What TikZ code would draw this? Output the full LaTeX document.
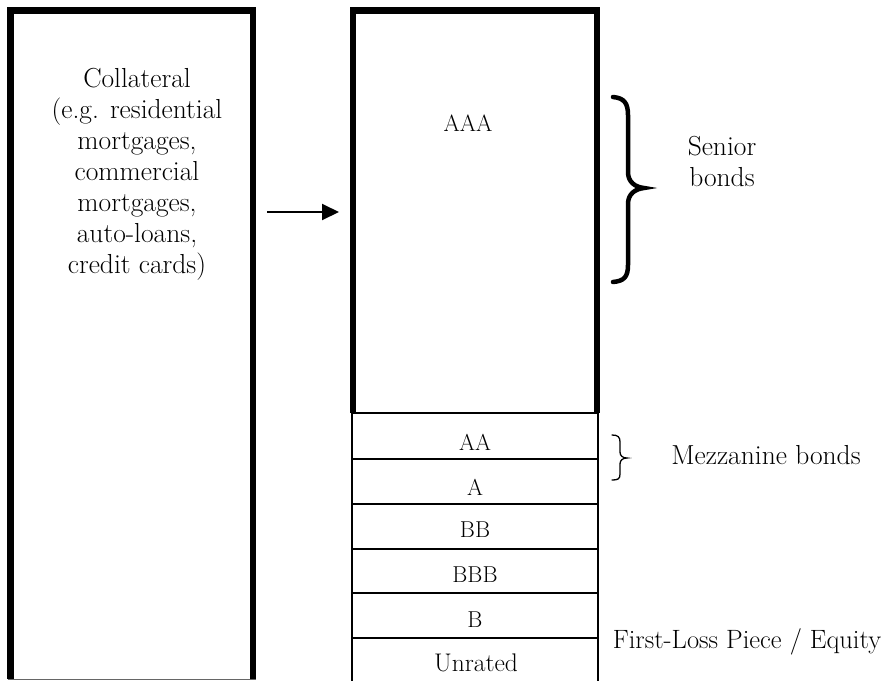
\documentclass[tikz,border=0pt]{standalone}
\usepackage{fontspec}
\usetikzlibrary{arrows.meta}
\begin{document}
\begin{tikzpicture}[x=1pt,y=-1pt,
  thickline/.style={line width=6.5pt, line join=miter},
  thinline/.style={line width=2.5pt},
  sepline/.style={line width=1.6pt},
  biglabel/.style={font=\fontsize{27.5}{31}\selectfont, align=center, inner sep=0pt},
  tlabel/.style={font=\fontsize{23}{26}\selectfont, inner sep=0pt},
  bracethick/.style={line width=4.5pt, line cap=round},
  bracethin/.style={line width=1.3pt, line cap=round},
]
\useasboundingbox[fill=white] (0,0) rectangle (886,681);

% left box
\draw[thickline] (10.5,679) -- (10.5,10.5) -- (253,10.5) -- (253,679);
\draw[line width=1.2pt, black!60] (8,679.5) -- (256,679.5);
\node[biglabel] (collat) at (137,174) {Collateral\\(e.g. residential\\mortgages,\\commercial\\mortgages,\\auto-loans,\\credit cards)};

% arrow
\coordinate (arrS) at (267,212);
\coordinate (arrE) at (339,212);
\draw[line width=2pt, -{Triangle[length=17pt,width=16pt]}] (arrS) -- (arrE);

% right box, senior part
\draw[thickline] (353,413) -- (353,10.5) -- (597,10.5) -- (597,413);
\node[tlabel, font=\fontsize{23.5}{26}\selectfont] (aaa) at (468,123) {AAA};

% tranches
\draw[thinline] (352,413) -- (352,681);
\draw[thinline] (598,413) -- (598,681);
\foreach \yy in {413,459,504,549,593,638}
  \draw[sepline] (352,\yy) -- (598,\yy);
\node[tlabel] (aa) at (475,442) {AA};
\node[tlabel] (a) at (475,487) {A};
\node[tlabel] (bb) at (475,530) {BB};
\node[tlabel] (bbb) at (475,575) {BBB};
\node[tlabel] (b) at (475,620) {B};
\node[tlabel, font=\fontsize{25.5}{28}\selectfont] (unr) at (476,663) {Unrated};

% senior brace
\draw[bracethick] (613,97) .. controls (624,98) and (628,103) .. (628,115)
  -- (628,172) .. controls (628,182) and (635,187) .. (644,188)
  .. controls (635,189) and (628,194) .. (628,204)
  -- (628,265) .. controls (628,277) and (624,281) .. (613,282);
\node[biglabel] (senior) at (722,161) {Senior\\bonds};

% mezzanine brace
\draw[bracethin] (612,435) .. controls (618,435) and (620,437) .. (620,442)
  -- (620,452) .. controls (620,456) and (623,458) .. (627,458)
  .. controls (623,458) and (620,460) .. (620,464)
  -- (620,474) .. controls (620,479) and (618,480) .. (612,480);
\node[biglabel] (mezz) at (766,455) {Mezzanine bonds};

\node[biglabel, font=\fontsize{26.5}{31}\selectfont] (first) at (747,642) {First-Loss Piece / Equity};
\end{tikzpicture}
\end{document}
